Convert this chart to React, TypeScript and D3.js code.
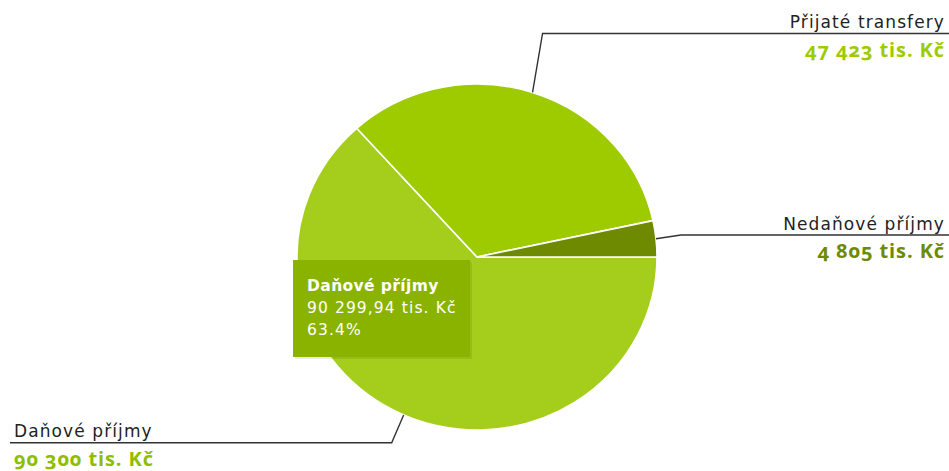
import React from "react";
import * as d3 from "d3";

const categories = ["Daňové příjmy", "Přijaté transfery", "Nedaňové příjmy"];
const values = [90299.94, 47423, 4805];
const valueLabels = ["90 300 tis. Kč", "47 423 tis. Kč", "4 805 tis. Kč"];
const colors = ["#a5cd1c", "#9dcb00", "#6e8a00"];
const valueColors = ["#8fbd00", "#9dcb00", "#6e8a00"];
const tooltipLines = ["Daňové příjmy", "90 299,94 tis. Kč", "63.4%"];

const W = 949;
const H = 471;
const cx = 477;
const cy = 257;
const rx = 180;
const ry = 173;

// label layout: side and y of the horizontal leader line
const labelLayout = [
  { side: "left", lineY: 442.7, elbowDx: -12 },
  { side: "right", lineY: 33.5, elbowDx: 10 },
  { side: "right", lineY: 235, elbowDx: 25 },
];

export default function App() {
  const pie = d3
    .pie<number>()
    .sort(null)
    .startAngle(Math.PI / 2)
    .endAngle(Math.PI / 2 + 2 * Math.PI);
  const arcs = pie(values);
  const arc = d3.arc<d3.PieArcDatum<number>>().innerRadius(0).outerRadius(rx);
  const sy = ry / rx;

  const nameFont = "'DejaVu Sans', Verdana, sans-serif";
  const valFont = "'Open Sans', sans-serif";

  return (
    <svg width={W} height={H} style={{ position: "absolute", left: 0, top: 0, display: "block" }}>
      <rect width={W} height={H} fill="#fff" />
      <g transform={`translate(${cx},${cy}) scale(1,${sy})`}>
        {arcs.map((a, i) => (
          <path
            key={i}
            d={arc(a) || ""}
            fill={colors[i]}
            stroke="#fff"
            strokeWidth={1.6}
            strokeLinejoin="round"
            vectorEffect="non-scaling-stroke"
          />
        ))}
      </g>
      {arcs.map((a, i) => {
        const mid = (a.startAngle + a.endAngle) / 2;
        const ex = cx + rx * Math.sin(mid);
        const ey = cy - ry * Math.cos(mid);
        const L = labelLayout[i];
        const right = L.side === "right";
        const elbowX = ex + L.elbowDx;
        const endX = right ? W : 10;
        const textX = right ? 945 : 14;
        const anchor = right ? "end" : "start";
        return (
          <g key={i}>
            <path
              d={`M${ex},${ey}L${elbowX},${L.lineY}L${endX},${L.lineY}`}
              fill="none"
              stroke="#333"
              strokeWidth={1.4}
            />
            <text
              x={textX}
              y={L.lineY - 5.5}
              textAnchor={anchor}
              fontFamily={nameFont}
              fontSize={17}
              letterSpacing={1.1}
              fill="#222"
            >
              {categories[i]}
            </text>
            <text
              x={textX}
              y={L.lineY + 23}
              textAnchor={anchor}
              fontFamily={valFont}
              fontWeight="bold"
              fontSize={20}
              letterSpacing={0.9}
              fill={valueColors[i]}
              style={{ fontVariantNumeric: "oldstyle-nums" }}
            >
              {valueLabels[i]}
            </text>
          </g>
        );
      })}
      <g>
        <rect x={295} y={262} width={177} height={97} fill="#000" opacity={0.08} />
        <rect x={293} y={260} width={177} height={97} fill="#8ab300" />
        <text x={307} y={290.5} fontFamily={nameFont} fontSize={15.5} letterSpacing={0.4} fontWeight="bold" fill="#fff">
          {tooltipLines[0]}
        </text>
        <text x={307} y={313} fontFamily={nameFont} fontSize={15.5} letterSpacing={1.1} fill="#fff">
          {tooltipLines[1]}
        </text>
        <text x={307} y={335} fontFamily={nameFont} fontSize={15.5} letterSpacing={1.1} fill="#fff">
          {tooltipLines[2]}
        </text>
      </g>
    </svg>
  );
}
